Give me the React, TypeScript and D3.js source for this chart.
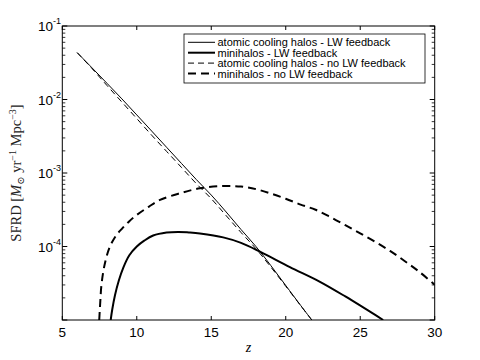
import React from "react";
import * as d3 from "d3";

// redshift samples + SFRD values
const zAtomicLW = [6, 7, 8, 9, 10, 11, 12, 13, 14, 15, 16, 17, 18, 19, 20, 21, 21.75];
const sfrdAtomicLW = [
  4.34e-2, 2.69e-2, 1.66e-2, 1.02e-2, 6.17e-3, 3.72e-3, 2.24e-3, 1.35e-3, 8.13e-4,
  5.01e-4, 2.95e-4, 1.7e-4, 1.0e-4, 5.5e-5, 2.95e-5, 1.58e-5, 1.0e-5,
];
const sfrdAtomicNoLW = [
  4.34e-2, 2.63e-2, 1.55e-2, 9.23e-3, 5.5e-3, 3.27e-3, 1.97e-3, 1.19e-3, 7.16e-4,
  4.47e-4, 2.63e-4, 1.55e-4, 9.33e-5, 5.25e-5, 2.88e-5, 1.57e-5, 1.0e-5,
];
const zMiniLW = [
  8.25, 8.35, 8.54, 8.8, 9.09, 9.5, 10, 10.5, 11.1, 12, 12.8, 13.5, 14.24, 15.8, 17,
  18.27, 20.28, 22.3, 24, 26.54,
];
const sfrdMiniLW = [
  1.0e-5, 1.38e-5, 2.19e-5, 3.47e-5, 5.13e-5, 7.59e-5, 1.0e-4, 1.2e-4, 1.41e-4, 1.55e-4,
  1.58e-4, 1.55e-4, 1.5e-4, 1.33e-4, 1.12e-4, 8.51e-5, 5.25e-5, 3.31e-5, 2.09e-5, 1.0e-5,
];
const zMiniNoLW = [
  7.48, 7.55, 7.64, 7.87, 8.2, 8.6, 9.0, 9.5, 10, 10.8, 11.56, 12.9, 14.24, 15.8, 17,
  18, 19, 20, 21, 22, 23, 24, 25, 26, 27, 28, 29, 30,
];
const sfrdMiniNoLW = [
  1.0e-5, 1.78e-5, 3.16e-5, 6.03e-5, 1.0e-4, 1.4e-4, 1.74e-4, 2.21e-4, 2.69e-4, 3.47e-4,
  4.3e-4, 5.3e-4, 6.19e-4, 6.65e-4, 6.53e-4, 6.03e-4, 5.25e-4, 4.47e-4, 3.72e-4,
  3.16e-4, 2.51e-4, 1.95e-4, 1.51e-4, 1.16e-4, 8.71e-5, 6.31e-5, 4.47e-5, 3.02e-5,
];

const xTicks = [5, 10, 15, 20, 25, 30];
const yDecades = [-5, -4, -3, -2, -1];
const yTickLabels = ["", "-4", "-3", "-2", "-1"];
const legendLabels = [
  "atomic cooling halos - LW feedback",
  "minihalos - LW feedback",
  "atomic cooling halos - no LW feedback",
  "minihalos - no LW feedback",
];

const W = 480;
const H = 360;
const m = { left: 62.3, right: 434.7, top: 26, bottom: 320 };

const styles = [
  { w: 1, dash: "" },
  { w: 2, dash: "" },
  { w: 1, dash: "6,4" },
  { w: 2, dash: "8,5" },
];

export default function App() {
  const x = d3.scaleLinear().domain([5, 30]).range([m.left, m.right]);
  const y = d3.scaleLog().domain([1e-5, 1e-1]).range([m.bottom, m.top]);

  const line = d3
    .line<[number, number]>()
    .x((d) => x(d[0]))
    .y((d) => y(d[1]))
    .curve(d3.curveCatmullRom.alpha(0.5));

  const series: [number, number][][] = [
    zAtomicLW.map((z, i) => [z, sfrdAtomicLW[i]]),
    zMiniLW.map((z, i) => [z, sfrdMiniLW[i]]),
    zAtomicLW.map((z, i) => [z, sfrdAtomicNoLW[i]]),
    zMiniNoLW.map((z, i) => [z, sfrdMiniNoLW[i]]),
  ];

  const minor: number[] = [];
  yDecades.slice(0, -1).forEach((e) => {
    for (let k = 2; k <= 9; k++) minor.push(k * Math.pow(10, e));
  });

  const font = "Liberation Sans, Arial, sans-serif";
  const serif = "Liberation Serif, DejaVu Serif, serif";

  const lg = { x0: 184, y0: 34, x1: 425, y1: 83 };

  return (
    <svg
      width={W}
      height={H}
      style={{ position: "fixed", left: 0, top: 0, background: "#fff" }}
    >
      <defs>
        <clipPath id="plot">
          <rect x={m.left} y={m.top} width={m.right - m.left} height={m.bottom - m.top} />
        </clipPath>
      </defs>

      <g clipPath="url(#plot)">
        {series.map((s, i) => (
          <path
            key={i}
            d={line(s) || ""}
            fill="none"
            stroke="#000"
            strokeWidth={styles[i].w}
            strokeDasharray={styles[i].dash}
          />
        ))}
      </g>

      {/* box */}
      <rect
        x={m.left}
        y={m.top}
        width={m.right - m.left}
        height={m.bottom - m.top}
        fill="none"
        stroke="#000"
        strokeWidth={1}
      />

      {/* x ticks */}
      {xTicks.map((t) => (
        <g key={"x" + t}>
          <line x1={x(t)} x2={x(t)} y1={m.bottom} y2={m.bottom - 4} stroke="#000" />
          <line x1={x(t)} x2={x(t)} y1={m.top} y2={m.top + 4} stroke="#000" />
          <text x={x(t)} y={337} textAnchor="middle" fontFamily={font} fontSize={13.5}>
            {t}
          </text>
        </g>
      ))}

      {/* y ticks */}
      {yDecades.map((e, i) => {
        const yy = y(Math.pow(10, e));
        return (
          <g key={"y" + e}>
            <line x1={m.left} x2={m.left + 5} y1={yy} y2={yy} stroke="#000" />
            <line x1={m.right} x2={m.right - 5} y1={yy} y2={yy} stroke="#000" />
            {yTickLabels[i] && (
              <text x={53} y={yy + 5} textAnchor="end" fontFamily={font} fontSize={13.5}>
                10
              </text>
            )}
            {yTickLabels[i] && (
              <text x={53} y={yy - 2} fontFamily={font} fontSize={9}>
                {yTickLabels[i]}
              </text>
            )}
          </g>
        );
      })}
      {minor.map((v) => (
        <g key={"m" + v}>
          <line x1={m.left} x2={m.left + 3} y1={y(v)} y2={y(v)} stroke="#000" strokeWidth={0.8} />
          <line x1={m.right} x2={m.right - 3} y1={y(v)} y2={y(v)} stroke="#000" strokeWidth={0.8} />
        </g>
      ))}

      {/* axis labels */}
      <text
        x={248.5}
        y={352}
        textAnchor="middle"
        fontFamily={serif}
        fontStyle="italic"
        fontSize={14}
      >
        z
      </text>
      <text
        transform={`translate(21, ${(m.top + m.bottom) / 2}) rotate(-90)`}
        textAnchor="middle"
        fontFamily={serif}
        fontSize={14.5}
        fill="#222"
      >
        SFRD [<tspan fontStyle="italic">M</tspan>
        <tspan fontSize={10} dy={3}>⊙</tspan>
        <tspan dy={-3}> yr</tspan>
        <tspan fontSize={10} dy={-5}>−1</tspan>
        <tspan dy={5}> Mpc</tspan>
        <tspan fontSize={10} dy={-5}>−3</tspan>
        <tspan dy={5}>]</tspan>
      </text>

      {/* legend */}
      <rect
        x={lg.x0}
        y={lg.y0}
        width={lg.x1 - lg.x0}
        height={lg.y1 - lg.y0}
        fill="#fff"
        stroke="#000"
        strokeWidth={0.8}
      />
      {legendLabels.map((lab, i) => {
        const yy = 42.3 + i * 10.4;
        return (
          <g key={lab}>
            <line
              x1={188}
              x2={215}
              y1={yy}
              y2={yy}
              stroke="#000"
              strokeWidth={styles[i].w}
              strokeDasharray={styles[i].dash}
            />
            <text x={217.5} y={yy + 4} fontFamily={font} fontSize={11}>
              {lab}
            </text>
          </g>
        );
      })}
    </svg>
  );
}
